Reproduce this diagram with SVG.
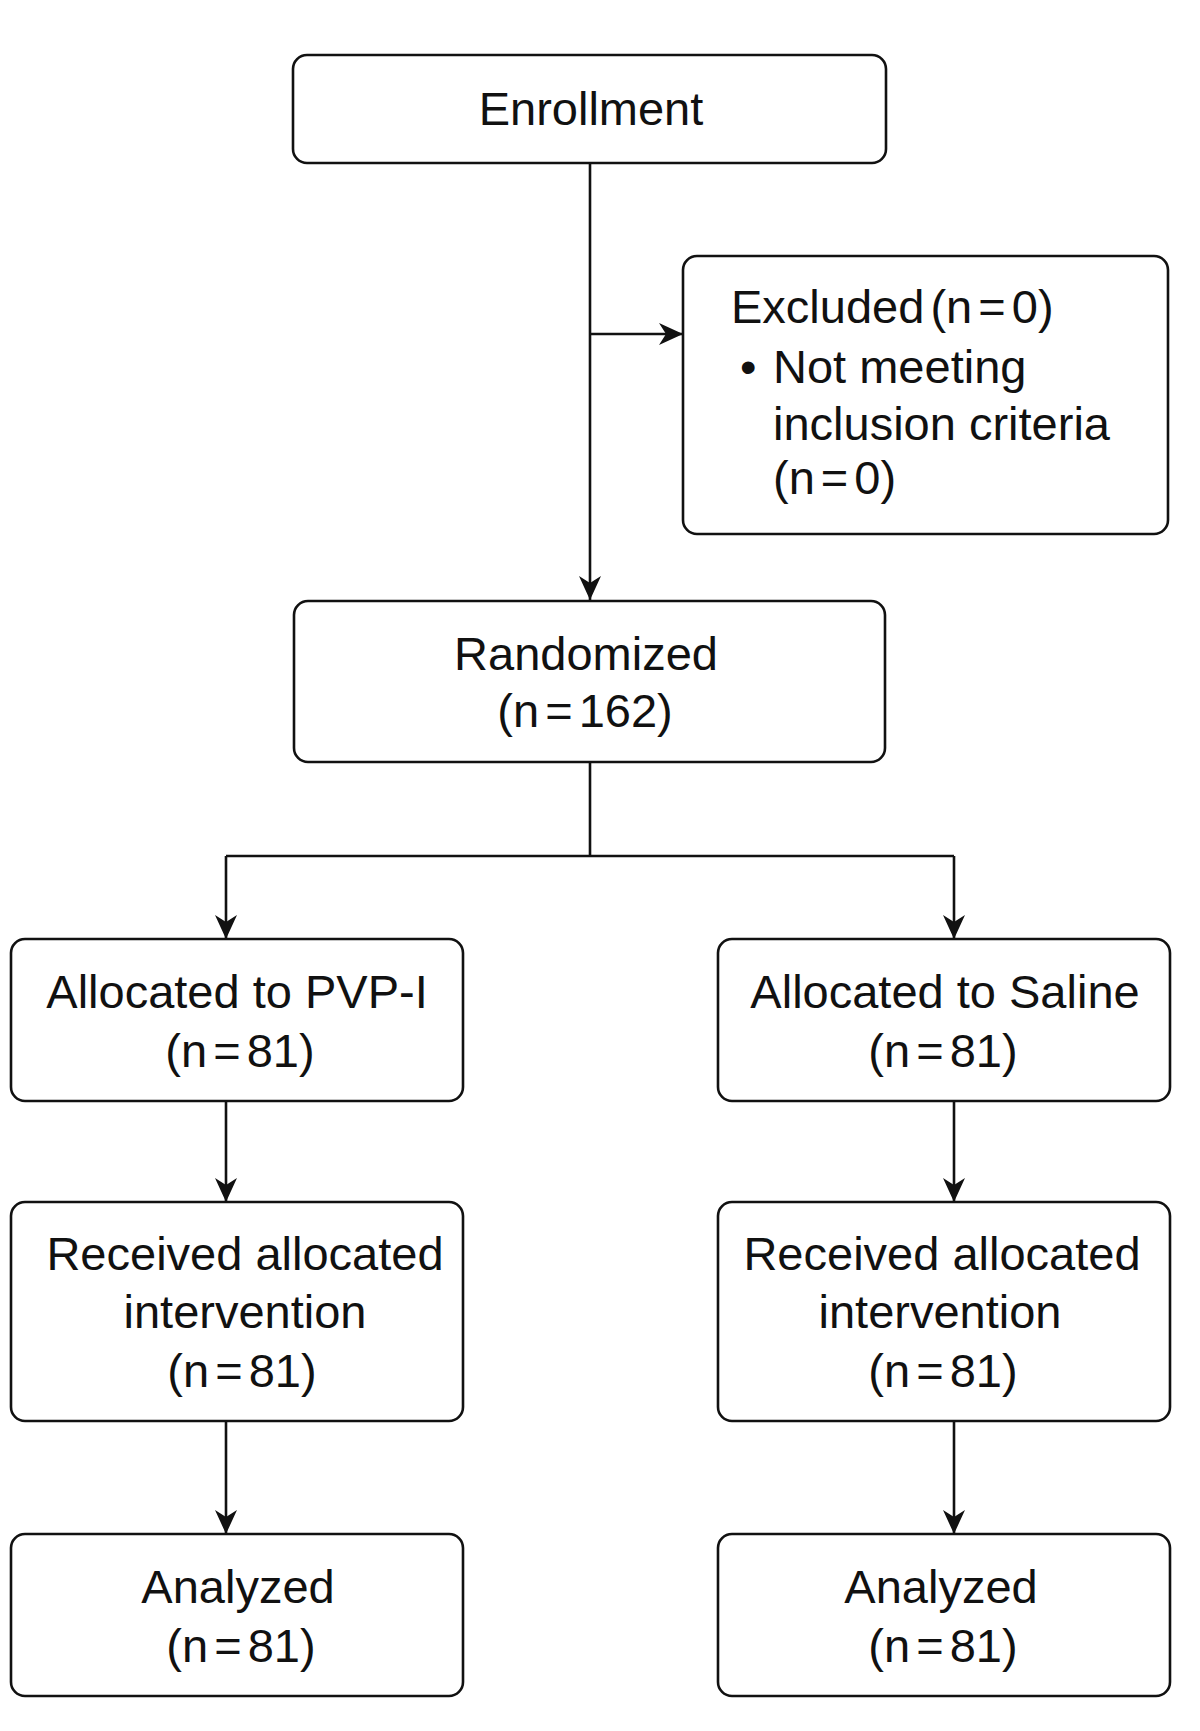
<svg xmlns="http://www.w3.org/2000/svg" width="1200" height="1731" viewBox="0 0 1200 1731">
<style>
.box{fill:#fff;stroke:#111;stroke-width:2.6}
.t{font-family:"Liberation Sans",Arial,sans-serif;font-size:47px;fill:#111;text-anchor:middle}
.l{text-anchor:start}
.n{word-spacing:-7px}
.c{fill:none;stroke:#111;stroke-width:2.6}
</style>
<defs>
<marker id="ah" viewBox="0 0 24 22" refX="24" refY="11" markerWidth="24" markerHeight="22" markerUnits="userSpaceOnUse" orient="auto">
<path d="M0,0 L24,11 L0,22 L7,11 Z" fill="#111"/>
</marker>
</defs>
<rect width="1200" height="1731" fill="#fff"/>
<g id="connectors">
<path class="c" d="M590,163 V600" marker-end="url(#ah)"/>
<path class="c" d="M590,334 H683" marker-end="url(#ah)"/>
<path class="c" d="M590,762 V856"/>
<path class="c" d="M226,856 H954"/>
<path class="c" d="M226,856 V939" marker-end="url(#ah)"/>
<path class="c" d="M954,856 V939" marker-end="url(#ah)"/>
<path class="c" d="M226,1101 V1202" marker-end="url(#ah)"/>
<path class="c" d="M954,1101 V1202" marker-end="url(#ah)"/>
<path class="c" d="M226,1421 V1534" marker-end="url(#ah)"/>
<path class="c" d="M954,1421 V1534" marker-end="url(#ah)"/>
</g>
<g id="enrollment">
<rect class="box" x="293" y="55" width="593" height="108" rx="14"/>
<text class="t" x="591" y="125">Enrollment</text>
</g>
<g id="excluded">
<rect class="box" x="683" y="256" width="485" height="278" rx="14"/>
<text class="t l n" x="731" y="323">Excluded (n = 0)</text>
<text class="t l" x="740" y="383">•</text>
<text class="t l" x="773" y="383">Not meeting</text>
<text class="t l" x="773" y="440">inclusion criteria</text>
<text class="t l n" x="773" y="494">(n = 0)</text>
</g>
<g id="randomized">
<rect class="box" x="294" y="601" width="591" height="161" rx="14"/>
<text class="t" x="586" y="670">Randomized</text>
<text class="t n" x="585" y="727">(n = 162)</text>
</g>
<g id="alloc-pvp">
<rect class="box" x="11" y="939" width="452" height="162" rx="14"/>
<text class="t" x="237" y="1008">Allocated to PVP-I</text>
<text class="t n" x="240" y="1067">(n = 81)</text>
</g>
<g id="alloc-saline">
<rect class="box" x="718" y="939" width="452" height="162" rx="14"/>
<text class="t" x="945" y="1008">Allocated to Saline</text>
<text class="t n" x="943" y="1067">(n = 81)</text>
</g>
<g id="received-pvp">
<rect class="box" x="11" y="1202" width="452" height="219" rx="14"/>
<text class="t" x="245" y="1270">Received allocated</text>
<text class="t" x="245" y="1328">intervention</text>
<text class="t n" x="242" y="1387">(n = 81)</text>
</g>
<g id="received-saline">
<rect class="box" x="718" y="1202" width="452" height="219" rx="14"/>
<text class="t" x="942" y="1270">Received allocated</text>
<text class="t" x="940" y="1328">intervention</text>
<text class="t n" x="943" y="1387">(n = 81)</text>
</g>
<g id="analyzed-pvp">
<rect class="box" x="11" y="1534" width="452" height="162" rx="14"/>
<text class="t" x="238" y="1603">Analyzed</text>
<text class="t n" x="241" y="1662">(n = 81)</text>
</g>
<g id="analyzed-saline">
<rect class="box" x="718" y="1534" width="452" height="162" rx="14"/>
<text class="t" x="941" y="1603">Analyzed</text>
<text class="t n" x="943" y="1662">(n = 81)</text>
</g>
</svg>
